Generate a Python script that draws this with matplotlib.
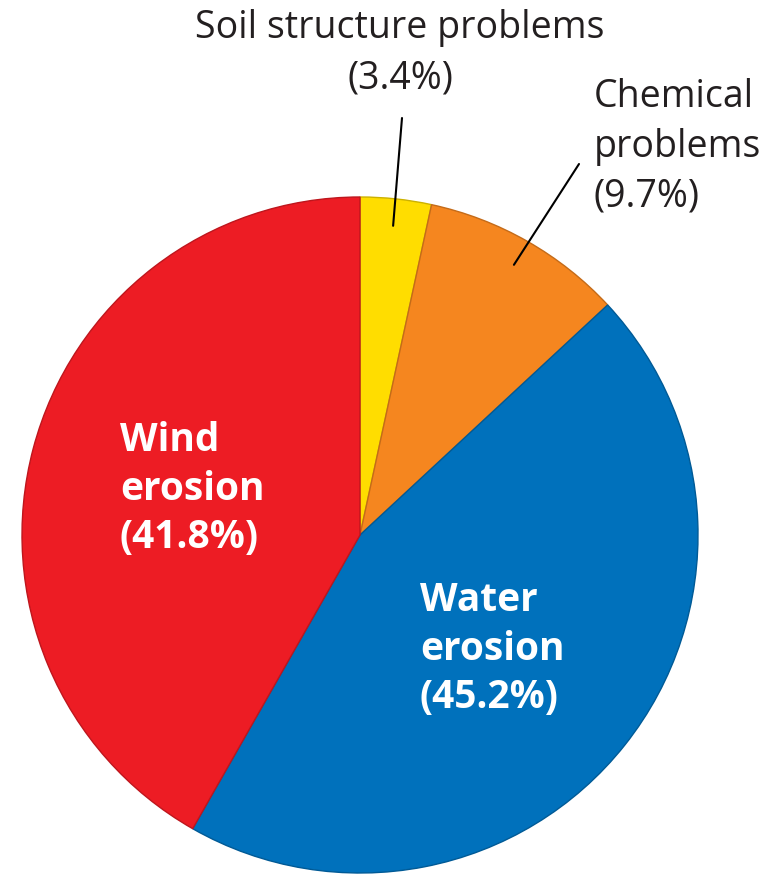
import numpy as np
import matplotlib
matplotlib.use('Agg')
import matplotlib.pyplot as plt
from matplotlib.colors import to_rgb

# slices clockwise from 12 o'clock
labels = ['Soil structure problems', 'Chemical problems', 'Water erosion', 'Wind erosion']
shares = [3.4, 9.7, 45.2, 41.8]
colors = ['#FFDD00', '#F5861F', '#0071BC', '#ED1C24']

W, H = 778, 876
plt.rcParams['font.family'] = ['Open Sans', 'DejaVu Sans']

fig = plt.figure(figsize=(W / 100, H / 100), dpi=100)
ax = fig.add_axes([0, 0, 1, 1])

cx, cy, r = 360, H - 535, 338
wedges, _ = ax.pie(shares, colors=colors, startangle=90, counterclock=False,
                   center=(cx, cy), radius=r)
for w, c in zip(wedges, colors):
    w.set_edgecolor([v * 0.8 for v in to_rgb(c)])
    w.set_linewidth(1.0)

ax.set_xlim(0, W)
ax.set_ylim(0, H)
ax.set_aspect('equal')
ax.axis('off')

dark = '#231F20'

def mid_point(w, frac=0.92):
    a = np.deg2rad((w.theta1 + w.theta2) / 2)
    return cx + frac * r * np.cos(a), cy + frac * r * np.sin(a)

# outside labels with leader lines
soil_txt = f'{labels[0]}\n({shares[0]}%)'
ax.text(400, H - 9, soil_txt, ha='center', va='top', fontsize=27,
        color=dark, linespacing=1.42)
ax.annotate('', xy=mid_point(wedges[0]), xytext=(402, H - 118),
            arrowprops=dict(arrowstyle='-', color='black', lw=1.5,
                            shrinkA=0, shrinkB=0))

chem_txt = labels[1].replace(' ', '\n') + f'\n({shares[1]}%)'
ax.text(594, H - 78, chem_txt, ha='left', va='top', fontsize=27,
        color=dark, linespacing=1.4)
ax.annotate('', xy=mid_point(wedges[1]), xytext=(579, H - 164),
            arrowprops=dict(arrowstyle='-', color='black', lw=1.5,
                            shrinkA=0, shrinkB=0))

# inside labels
water_txt = labels[2].replace(' ', '\n') + f'\n({shares[2]}%)'
ax.text(420, H - 581, water_txt, ha='left', va='top', fontsize=28,
        fontweight='bold', color='white', linespacing=1.32)

wind_txt = labels[3].replace(' ', '\n') + f'\n({shares[3]}%)'
ax.text(120, H - 421, wind_txt, ha='left', va='top', fontsize=28,
        fontweight='bold', color='white', linespacing=1.32)

fig.savefig('out.png', dpi=100, facecolor='white')
